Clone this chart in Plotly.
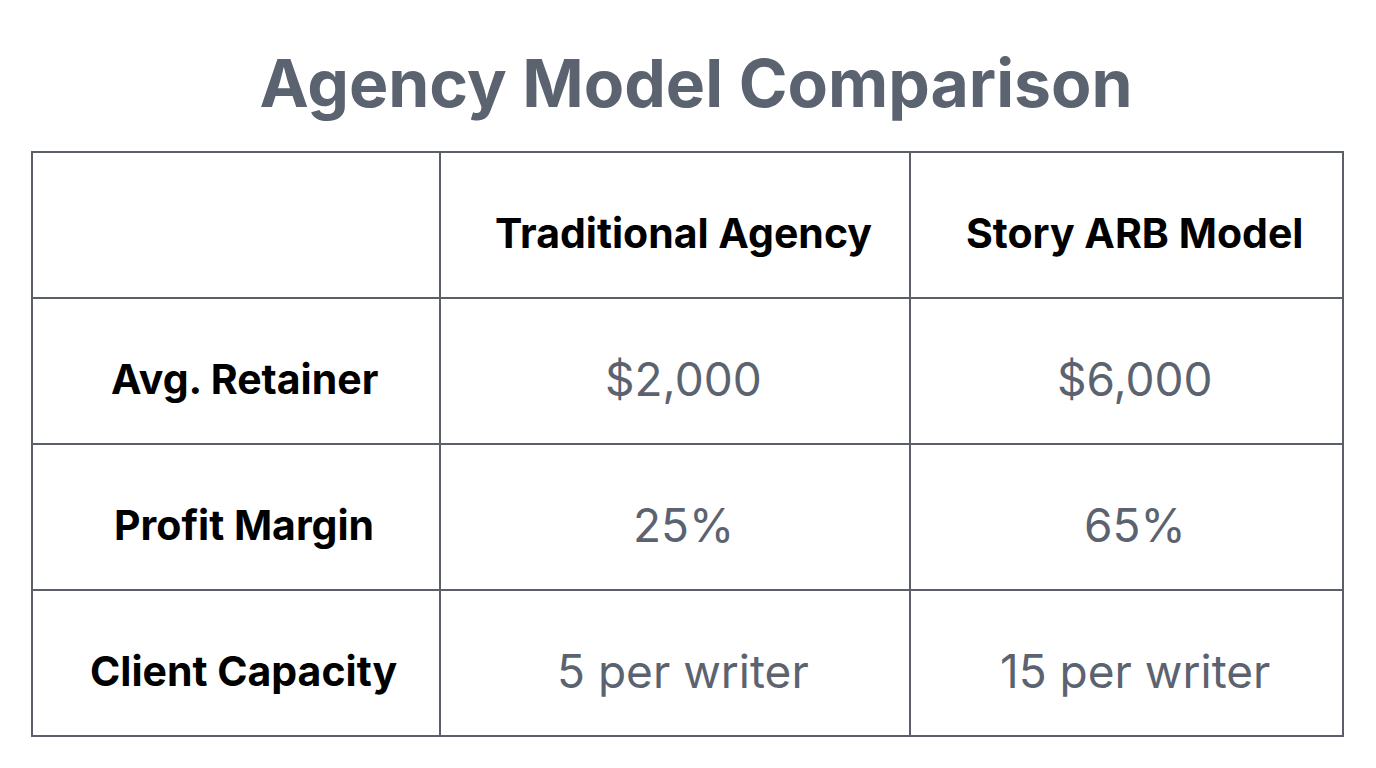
import plotly.graph_objects as go

title = "Agency Model Comparison"
header = ["", "Traditional Agency", "Story ARB Model"]
metrics = ["Avg. Retainer", "Profit Margin", "Client Capacity"]
traditional = ["$2,000", "25%", "5 per writer"]
story_arb = ["$6,000", "65%", "15 per writer"]

W, H = 1376, 768
col_w = [408, 470, 433]
left, top, row_h = 32, 152, 146
gray = "#5c6370"

# table draws the grid; text is placed in the middle of each cell
fig = go.Figure(go.Table(
    columnwidth=col_w,
    header=dict(values=[""] * 3, height=row_h,
                line=dict(color="#5b6068", width=2), fill_color="white"),
    cells=dict(values=[[""] * 3] * 3, height=row_h,
               line=dict(color="#5b6068", width=2), fill_color="white"),
    domain=dict(x=[(left - 8) / W, (left - 8 + sum(col_w)) / W], y=[0, 1 - (top - 8) / H]),
))

columns = [metrics, traditional, story_arb]
x0 = left
for c, w in enumerate(col_w):
    xc = (x0 + w / 2) / W
    x0 += w
    texts = [header[c]] + columns[c]
    for r, t in enumerate(texts):
        if not t:
            continue
        yc = 1 - (top + row_h * (r + 0.5)) / H
        bold = r == 0 or c == 0
        fig.add_annotation(
            x=xc, y=yc, xref="paper", yref="paper", showarrow=False,
            xanchor="center", yanchor="middle",
            text="<b>%s</b>" % t if bold else t,
            font=dict(family="Inter", size=41 if bold else 46,
                      color="black" if bold else gray),
        )

fig.update_layout(
    width=W, height=H,
    margin=dict(l=0, r=0, t=0, b=0),
    paper_bgcolor="white",
    title=dict(text="<b>%s</b>" % title, x=0.5, y=1 - 76 / H, xanchor="center", yanchor="middle",
               font=dict(family="Inter", size=66, color=gray)),
)
fig.write_html("out.html")
